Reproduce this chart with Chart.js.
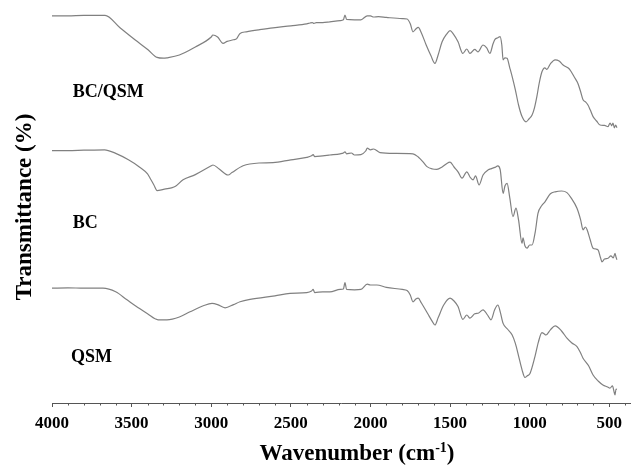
<!DOCTYPE html>
<html>
<head>
<meta charset="utf-8">
<script src="https://cdn.jsdelivr.net/npm/chart.js@4.4.1/dist/chart.umd.min.js"></script>
<style>
html,body{margin:0;padding:0;background:#fff;}
#wrap{width:631px;height:465px;position:relative;}
</style>
</head>
<body>
<div id="wrap"><canvas id="c"></canvas></div>
<script>
// ---- Data (wavenumber in cm-1, transmittance in arbitrary stacked units) ----
const seriesNames = ['BC/QSM', 'BC', 'QSM'];
const majorTicks = [4000, 3500, 3000, 2500, 2000, 1500, 1000, 500];

const wnBCQSM = [4000,3900,3800,3667,3573,3479,3397,3340,3300,3278,3200,3100,3000,2990,2960,2926,2900,2860,2840,2819,2780,2700,2612,2500,2400,2380,2365,2355,2340,2300,2255,2190,2170,2160,2150,2100,2060,2020,2000,1980,1950,1900,1800,1770,1750,1733,1715,1700,1680,1650,1620,1595,1575,1550,1520,1500,1480,1450,1420,1395,1375,1345,1325,1293,1270,1250,1230,1218,1200,1186,1175,1167,1155,1142,1125,1110,1090,1070,1048,1023,1005,985,970,955,940,923,905,892,870,840,815,790,760,747,720,697,680,665,650,634,620,602,580,558,530,508,495,485,477,468,460,452];
const tBCQSM = [96.8,96.8,96.9,96.9,93.8,90.8,88.3,86.4,86.2,86.3,87.0,89.0,91.5,92.0,91.5,89.9,90.4,90.8,91.1,92.4,92.8,93.3,93.8,94.3,94.8,95.0,95.1,94.9,95.1,95.1,95.3,95.6,95.8,97.0,95.9,95.8,95.8,96.8,96.8,96.5,96.6,96.4,96.1,96.0,94.8,92.8,93.5,93.9,92.5,89.5,86.8,84.9,87.0,90.3,92.3,93.1,92.3,90.3,87.4,88.5,87.4,88.4,87.8,89.5,88.8,87.4,89.8,90.9,91.3,91.6,89.5,85.8,86.3,86.2,83.8,81.6,78.3,74.5,71.6,70.3,71.0,72.0,73.8,76.6,80.0,82.8,83.8,83.4,84.8,85.8,85.5,84.5,83.8,83.3,81.5,79.9,77.8,75.8,75.3,74.5,73.3,71.6,70.5,69.5,69.4,69.1,70.0,69.3,70.0,68.8,69.5,68.8];

const wnBC = [4000,3900,3800,3670,3600,3520,3447,3400,3384,3360,3340,3300,3250,3227,3177,3100,3000,2989,2950,2894,2870,2800,2700,2612,2500,2400,2370,2360,2350,2300,2255,2190,2170,2160,2150,2120,2100,2060,2030,2020,2000,1980,1940,1850,1733,1700,1670,1645,1610,1583,1550,1520,1500,1475,1450,1425,1395,1375,1355,1340,1318,1293,1260,1240,1218,1200,1185,1167,1155,1142,1125,1105,1086,1070,1048,1042,1030,1017,1000,985,965,948,925,904,870,840,800,766,740,703,680,665,650,640,620,602,585,571,555,546,530,508,490,475,464,458,452];
const tBC = [63.1,63.1,63.2,63.3,62.4,60.8,58.9,57.3,56.2,54.5,53.1,53.4,53.8,54.1,55.8,57.1,59.3,59.5,58.5,57.0,57.6,59.3,60.0,60.1,60.8,61.4,61.8,62.1,61.6,61.8,62.0,62.3,62.5,62.8,62.3,62.5,62.0,62.1,63.0,63.7,63.3,63.5,62.6,62.4,62.3,61.5,60.3,59.1,58.5,58.4,59.0,59.9,60.2,59.0,57.8,56.2,57.8,56.5,55.8,56.8,54.5,57.0,58.3,58.6,58.9,59.3,58.3,52.4,54.3,54.9,51.3,46.6,48.7,45.8,39.9,41.3,39.3,38.7,39.5,39.5,42.8,47.4,49.3,50.3,52.3,52.8,53.0,52.6,51.3,48.7,45.8,43.3,44.0,43.4,40.8,38.7,38.5,38.3,36.3,35.3,36.0,36.2,36.8,36.3,37.4,36.5,35.8];

const wnQSM = [4000,3900,3800,3680,3600,3529,3450,3400,3334,3278,3200,3133,3050,2995,2960,2913,2860,2819,2756,2600,2505,2400,2370,2360,2350,2300,2255,2190,2170,2160,2150,2100,2060,2020,2000,1960,1900,1800,1770,1750,1733,1715,1700,1680,1640,1610,1595,1575,1540,1500,1475,1450,1420,1395,1375,1345,1320,1293,1265,1243,1220,1200,1185,1167,1140,1110,1090,1070,1048,1030,1015,998,967,945,923,910,898,870,840,800,766,735,703,680,665,630,602,570,540,510,496,480,470,464,458,452];
const tQSM = [28.7,28.8,28.7,28.7,27.8,25.8,23.6,22.3,20.8,20.8,21.5,22.8,24.3,24.9,24.6,23.8,24.6,25.3,25.9,26.8,27.4,27.6,28.0,28.4,27.6,27.8,27.8,28.4,28.5,30.1,28.4,28.3,28.4,29.7,29.5,29.5,28.9,28.4,28.1,27.0,25.3,26.0,26.2,25.0,22.3,20.3,19.5,21.3,24.5,26.2,25.5,24.1,20.9,22.0,21.2,22.3,22.5,23.3,22.0,20.8,23.3,24.5,22.8,19.9,18.5,17.0,14.9,11.8,8.3,6.4,6.8,7.4,11.6,15.3,17.6,17.3,17.0,18.3,19.3,18.0,16.2,15.0,14.1,12.5,11.2,9.3,7.0,5.5,4.5,4.0,3.7,4.3,2.8,2.0,3.5,3.4];

const SERIF = "'Liberation Serif', 'Times New Roman', serif";
const AXIS_COLOR = '#555555';
const LINE_COLOR = '#808080';

function pts(wn, t) { return wn.map((x, i) => ({ x: x, y: t[i] })); }

const annotPlugin = {
  id: 'annot',
  afterDraw(chart) {
    const ctx = chart.ctx;
    const xs = chart.scales.x, ys = chart.scales.y;
    const bottom = chart.chartArea.bottom;
    ctx.save();
    // minor ticks every 100 cm-1
    ctx.strokeStyle = AXIS_COLOR;
    ctx.lineWidth = 1;
    ctx.beginPath();
    for (let v = 400; v <= 4000; v += 100) {
      if (v % 500 === 0) continue;
      const px = Math.round(xs.getPixelForValue(v)) + 0.5;
      ctx.moveTo(px, bottom);
      ctx.lineTo(px, bottom + 2.5);
    }
    ctx.stroke();

    ctx.fillStyle = '#000';
    // series labels
    ctx.font = 'bold 18px ' + SERIF;
    ctx.textAlign = 'left';
    ctx.textBaseline = 'alphabetic';
    const labelAnchors = [[3870, 76.5], [3870, 43.8], [3880, 10.2]];
    seriesNames.forEach((n, i) => {
      ctx.fillText(n, xs.getPixelForValue(labelAnchors[i][0]), ys.getPixelForValue(labelAnchors[i][1]));
    });

    // y-axis title
    ctx.save();
    ctx.translate(31, 207);
    ctx.rotate(-Math.PI / 2);
    ctx.font = 'bold 23px ' + SERIF;
    ctx.textAlign = 'center';
    ctx.textBaseline = 'alphabetic';
    ctx.fillText('Transmittance (%)', 0, 0);
    ctx.restore();

    // x-axis title with superscript
    const main1 = 'Wavenumber (cm', sup = '-1', main2 = ')';
    const fMain = 'bold 23px ' + SERIF, fSup = 'bold 14px ' + SERIF;
    ctx.font = fMain; const w1 = ctx.measureText(main1).width, w3 = ctx.measureText(main2).width;
    ctx.font = fSup; const w2 = ctx.measureText(sup).width;
    const total = w1 + w2 + w3;
    let x0 = 357 - total / 2;
    const base = 460;
    ctx.textAlign = 'left';
    ctx.font = fMain; ctx.fillText(main1, x0, base);
    ctx.font = fSup; ctx.fillText(sup, x0 + w1, base - 8);
    ctx.font = fMain; ctx.fillText(main2, x0 + w1 + w2, base);
    ctx.restore();
  }
};

const ds = (label, data) => ({
  label: label, data: data,
  borderColor: LINE_COLOR, borderWidth: 1.2,
  pointRadius: 0, cubicInterpolationMode: 'monotone', fill: false
});

new Chart(document.getElementById('c'), {
  type: 'line',
  data: {
    datasets: [
      ds(seriesNames[0], pts(wnBCQSM, tBCQSM)),
      ds(seriesNames[1], pts(wnBC, tBC)),
      ds(seriesNames[2], pts(wnQSM, tQSM))
    ]
  },
  options: {
    responsive: true, maintainAspectRatio: false, animation: false,
    layout: { padding: { left: 52, right: 1, top: 3, bottom: 25.6 } },
    plugins: { legend: { display: false }, tooltip: { enabled: false } },
    scales: {
      x: {
        type: 'linear', reverse: true, min: 370, max: 4000,
        afterBuildTicks: (s) => { s.ticks = majorTicks.map(v => ({ value: v })); },
        ticks: {
          autoSkip: false, maxRotation: 0, padding: 6, color: '#000',
          font: { family: SERIF, size: 17, weight: 'bold' },
          callback: (v) => String(v)
        },
        grid: { drawOnChartArea: false, drawTicks: true, tickLength: 4, color: AXIS_COLOR },
        border: { display: true, color: AXIS_COLOR, width: 1 }
      },
      y: { display: false, min: 0, max: 100 }
    }
  },
  plugins: [annotPlugin]
});
</script>
</body>
</html>
